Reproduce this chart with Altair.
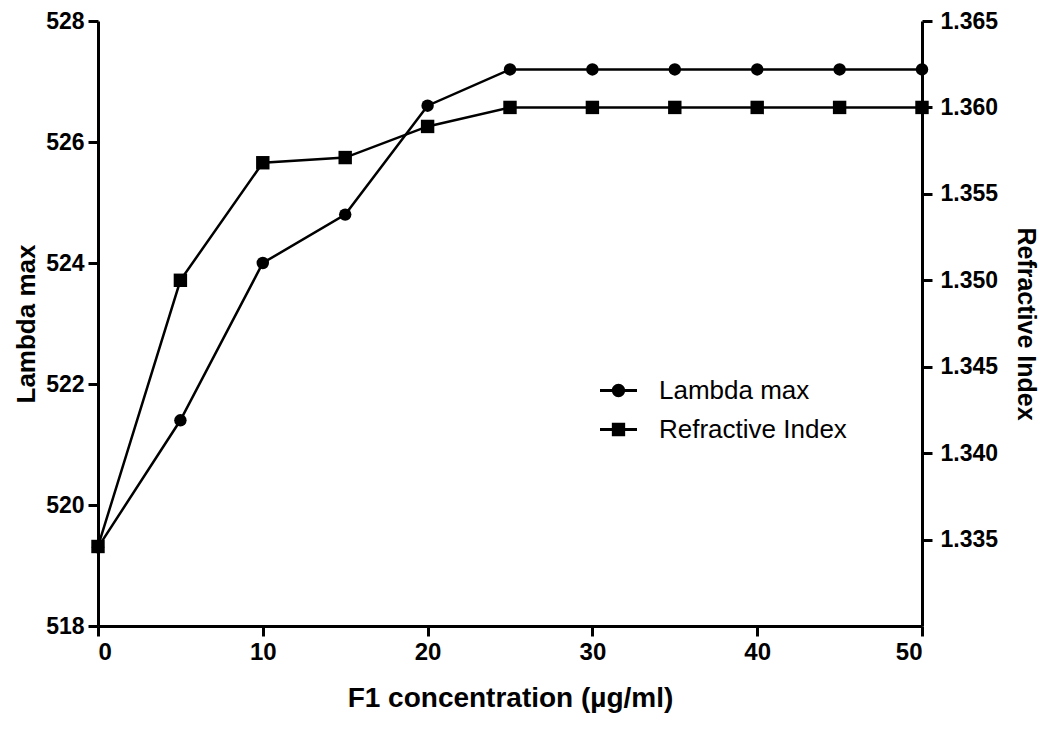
import altair as alt
import pandas as pd

conc = [0, 5, 10, 15, 20, 25, 30, 35, 40, 45, 50]
lambda_max = [519.3, 521.4, 524.0, 524.8, 526.6, 527.2, 527.2, 527.2, 527.2, 527.2, 527.2]
refr_index = [1.3346, 1.3500, 1.3568, 1.3571, 1.3589, 1.3600, 1.3600, 1.3600, 1.3600, 1.3600, 1.3600]
series_names = ["Lambda max", "Refractive Index"]
x_ticks = [0, 10, 20, 30, 40, 50]
left_ticks = [518, 520, 522, 524, 526, 528]
right_ticks = [1.335, 1.340, 1.345, 1.350, 1.355, 1.360, 1.365]

df = pd.DataFrame({"conc": conc, "lam": lambda_max, "ri": refr_index})
FONT = "Liberation Sans"

x_enc = alt.X(
    "conc:Q",
    scale=alt.Scale(domain=[0, 50], nice=False, zero=False),
    axis=alt.Axis(
        values=x_ticks, format="d", title="F1 concentration (µg/ml)",
        tickSize=10, labelPadding=4, titlePadding=20,
        labelFontSize=24, titleFontSize=28,
    ),
)

y_left = alt.Y(
    "lam:Q",
    scale=alt.Scale(domain=[518, 528], nice=False, zero=False),
    axis=alt.Axis(
        orient="left", values=left_ticks, format="d", title="Lambda max",
        tickSize=10, labelPadding=4, titlePadding=6,
        labelFontSize=23, titleFontSize=26,
    ),
)

y_right = alt.Y(
    "ri:Q",
    scale=alt.Scale(domain=[1.330, 1.365], nice=False, zero=False),
    axis=alt.Axis(
        orient="right", values=right_ticks, format=".3f", title="Refractive Index",
        tickSize=10, labelPadding=8, titlePadding=15,
        labelFontSize=23, titleFontSize=25,
    ),
)

base = alt.Chart(df)
lam_line = base.mark_line(color="black", strokeWidth=2.5).encode(x=x_enc, y=y_left)
lam_pts = base.mark_point(filled=True, color="black", opacity=1, shape="circle", size=155).encode(x=x_enc, y=y_left)
ri_line = base.mark_line(color="black", strokeWidth=2.5).encode(x=x_enc, y=y_right)
ri_pts = base.mark_point(filled=True, color="black", opacity=1, shape="square", size=180).encode(x=x_enc, y=y_right)

left = alt.layer(lam_line, lam_pts)
right = alt.layer(ri_line, ri_pts)

circle_path = "M-1,-0.08H1V0.08H-1Z M-0.36,0A0.36,0.36 0 1,1 0.36,0A0.36,0.36 0 1,1 -0.36,0Z"
square_path = "M-1,-0.08H1V0.08H-1Z M-0.36,-0.36H0.36V0.36H-0.36Z"

legend_df = pd.DataFrame({"series": series_names})
legend_layer = alt.Chart(legend_df).mark_point(filled=True, color="black", opacity=1).encode(
    shape=alt.Shape(
        "series:N",
        scale=alt.Scale(domain=series_names, range=[circle_path, square_path]),
        legend=alt.Legend(
            title=None, orient="none", legendX=502, legendY=351,
            symbolSize=1369, symbolFillColor="black", symbolStrokeWidth=0,
            labelFont=FONT, labelFontSize=26, labelColor="black", labelFontWeight="normal",
            labelOffset=22, labelLimit=400, rowPadding=7, padding=0,
        ),
    )
).transform_filter("false")

chart = (
    alt.layer(left, right, legend_layer)
    .resolve_scale(y="independent")
    .properties(
        width=824, height=605,
        autosize=alt.AutoSizeParams(type="none"),
        padding={"left": 90, "top": 13, "right": 120, "bottom": 96},
        background="white",
    )
    .configure_view(strokeWidth=0)
    .configure_axis(
        grid=False, domainColor="black", domainWidth=3, tickColor="black", tickWidth=3,
        labelColor="black", titleColor="black", labelFont=FONT, titleFont=FONT,
        labelFontWeight="bold", titleFontWeight="bold",
    )
)

chart.save("out.html", embed_options={"renderer": "svg", "actions": False})
